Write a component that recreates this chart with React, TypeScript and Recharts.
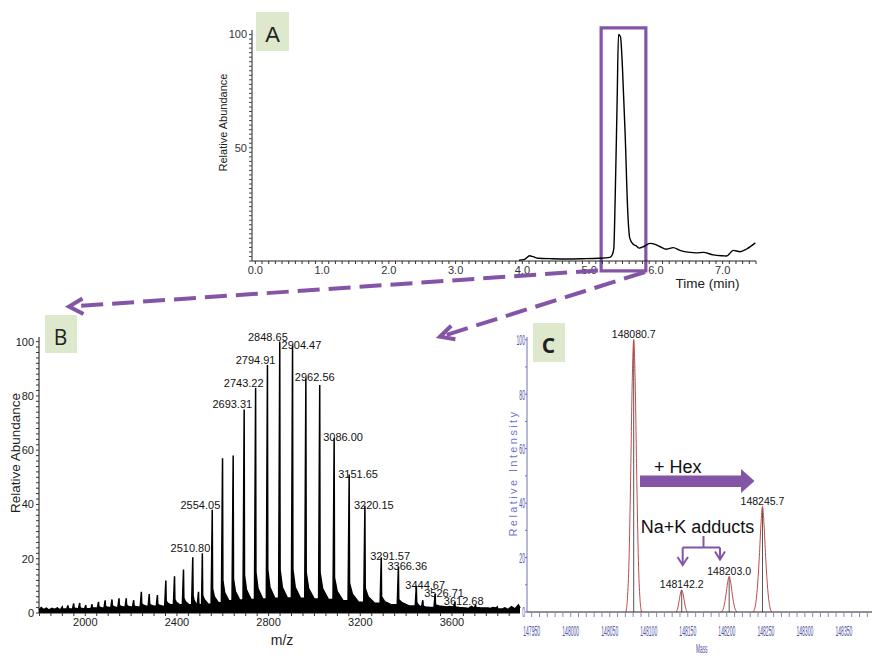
import React from 'react';
import { LineChart, Line, XAxis, YAxis, ReferenceArea, ComposedChart, Area, LabelList, ReferenceLine } from 'recharts';

const W = 872;
const H = 656;
const PURPLE = '#8455a6';
const BOX = '#dde8cd';
const FONT = '"Liberation Sans", Arial, sans-serif';
const BLUE = '#4f4fa3';

// ---------- Panel A : chromatogram ----------
const chromTime = [3.95, 4.03, 4.11, 4.16, 4.24, 4.45, 4.67, 4.9, 5.15, 5.31, 5.35, 5.37, 5.39, 5.42, 5.44, 5.47, 5.5, 5.54, 5.58, 5.61, 5.66, 5.71, 5.75, 5.82, 5.91, 6.0, 6.06, 6.16, 6.26, 6.36, 6.51, 6.6, 6.71, 6.86, 7.0, 7.06, 7.16, 7.26, 7.36, 7.49];
const chromAbund = [0.3, 0.7, 2.3, 1.9, 1.2, 1.0, 0.9, 1.0, 1.2, 1.6, 3, 5.6, 27, 71, 100, 99, 85, 56, 21, 10, 7.4, 6.6, 5.7, 6.4, 7.8, 7.2, 6.4, 5.2, 5.9, 4.7, 3.8, 3.6, 3.8, 2.7, 2.3, 2.2, 4.7, 4.1, 5.3, 8];
const timeMajorTicks = [0, 1, 2, 3, 4, 5, 6, 7];
const abundMajorTicksA = [50, 100];
const selectionWindow = { t1: 5.18, t2: 5.85, low: -4.4, high: 102.9 };

// ---------- Panel B : charge-state envelope ----------
const bPeakMz = [1899.48, 1924.13, 1949.44, 1975.42, 2002.1, 2029.51, 2057.69, 2086.65, 2116.45, 2147.11, 2178.67, 2211.16, 2244.66, 2279.17, 2314.77, 2351.5, 2389.41, 2428.56, 2469.02, 2494.0, 2510.8, 2554.05, 2598.92, 2645.31, 2693.31, 2743.22, 2794.91, 2848.65, 2904.47, 2962.56, 3023.07, 3086.0, 3151.65, 3220.15, 3291.57, 3366.36, 3444.67, 3473.0, 3526.71, 3612.68, 3703.02, 3797.95];
const bPeakHeight = [2.2, 2.8, 3.5, 3.7, 2.9, 3.2, 4.1, 4.7, 5.0, 5.4, 5.4, 4.7, 7.8, 7.0, 6.6, 12, 13.5, 16, 20.5, 7.8, 22, 38, 57, 58, 75, 83, 91.4, 100, 98.5, 86.5, 84, 64.5, 51, 39.5, 20.5, 17, 10, 4.7, 7, 4, 3, 2.2];
const bPeakTail = [1.6, 1.8, 2, 2, 1.8, 2, 2.4, 2.6, 2.8, 3, 3, 2.8, 3.5, 3.4, 3.3, 4.5, 5, 5.5, 6.5, 3.5, 6.5, 9, 12, 12.5, 14, 15, 16, 16, 16, 15, 15, 13, 11, 9, 6, 5, 4, 2.5, 3, 2.2, 2, 1.6];
const bPeakSkirt = [1.5, 1.6, 1.8, 1.8, 1.7, 1.9, 2.1, 2.2, 2.4, 2.5, 2.5, 2.4, 3, 2.9, 2.9, 3.6, 3.9, 4.2, 4.8, 3.2, 5, 6, 7.5, 8, 8.5, 9, 9.5, 9.5, 9.5, 9, 9, 8, 7, 6, 4.2, 3.8, 3.2, 2.2, 2.6, 2, 1.9, 1.5];
const bPeakFloor = [1.5, 1.5, 1.6, 1.6, 1.6, 1.8, 1.8, 2, 2, 2.2, 2.2, 2.2, 2.5, 2.5, 2.5, 3, 3, 3, 3.2, 3, 3.2, 3.8, 4.5, 4.8, 5, 5.2, 5.4, 5.5, 5.4, 5.2, 5, 4.5, 4, 3.6, 3, 2.6, 2.4, 2, 2.2, 1.8, 1.8, 1.5];
const bNoise: [number, number][] = [[1798, 1.3], [1808, 2], [1818, 1.2], [1830, 1.8], [1842, 1.1], [1855, 1.7], [1866, 1.3], [1878, 1.9], [1888, 1.2], [1912, 1.5], [1937, 1.6], [1962, 1.7], [1988, 1.4], [2016, 1.8], [2043, 1.6], [2072, 2], [2101, 2.2], [2132, 2], [2163, 2.4], [2195, 2.3], [2228, 2.6], [2262, 2.5], [2297, 2.8], [2333, 2.7], [2370, 3], [2409, 3], [2449, 3.2], [3460, 2], [3490, 2.6], [3500, 1.8], [3560, 2.2], [3575, 1.6], [3590, 2.4], [3640, 1.6], [3655, 2.2], [3670, 1.5], [3685, 2.4], [3720, 2], [3735, 1.5], [3750, 2.6], [3765, 1.6], [3778, 2], [3815, 1.4], [3830, 1.9], [3845, 1.3], [3860, 2.3], [3875, 1.5], [3890, 3], [3897, 1.8]];
const bLabelledMz = [2510.8, 2554.05, 2693.31, 2743.22, 2794.91, 2848.65, 2904.47, 2962.56, 3086.0, 3151.65, 3220.15, 3291.57, 3366.36, 3444.67, 3526.71, 3612.68];
const mzMajorTicks = [2000, 2400, 2800, 3200, 3600];
const abundMajorTicksB = [0, 20, 40, 60, 80, 100];

// ---------- Panel C : deconvoluted mass ----------
const cProfile: ([number, number] | null)[] = [
  [148070.7, 0], [148072.7, 5], [148074.7, 19], [148076.7, 48], [148078.7, 83], [148080.7, 100], [148082.7, 83], [148084.7, 48], [148086.7, 19], [148088.7, 5], [148090.7, 0],
  null,
  [148135.2, 0], [148137.2, 1.5], [148139.2, 4.6], [148140.7, 7], [148142.2, 8.1], [148143.7, 7], [148145.2, 4.6], [148147.2, 1.5], [148149.2, 0],
  null,
  [148193.0, 0], [148196.0, 1.7], [148199.0, 6.5], [148201.0, 10.8], [148203.0, 13], [148205.0, 10.8], [148207.0, 6.5], [148210.0, 1.7], [148213.0, 0],
  null,
  [148233.7, 0], [148236.7, 2.5], [148239.7, 11], [148241.7, 20.5], [148243.7, 32], [148245.7, 38.7], [148247.7, 32], [148249.7, 20.5], [148251.7, 11], [148254.7, 2.5], [148257.7, 0],
];
const cPeakMass = [148080.7, 148142.2, 148203.0, 148245.7];
const cPeakIntensity = [100, 8.1, 13, 38.7];
const massMajorTicks = [147950, 148000, 148050, 148100, 148150, 148200, 148250, 148300, 148350];
const intensityMajorTicks = [0, 20, 40, 60, 80, 100];

// ---------- helpers ----------
const range = (a: number, b: number, s: number) => {
  const out: number[] = [];
  for (let i = 0; a + i * s <= b + 1e-9; i++) out.push(Math.round((a + i * s) * 1000) / 1000);
  return out;
};
const isIn = (arr: number[], v: number) => arr.some((m) => Math.abs(m - v) < 1e-6);

const chromData = chromTime.map((t, i) => ({ t, v: chromAbund[i] }));

const buildProfileB = () => {
  const pts: { mz: number; v: number }[] = [];
  const windows: [number, number][] = [];
  bPeakMz.forEach((mz, i) => {
    const prevGap = i > 0 ? mz - bPeakMz[i - 1] : 30;
    const nextGap = i < bPeakMz.length - 1 ? bPeakMz[i + 1] - mz : 40;
    const pre = Math.min(5, prevGap * 0.2);
    const end = mz + nextGap * 0.6;
    pts.push({ mz: mz - pre, v: i > 0 ? bPeakFloor[i - 1] : 1.5 });
    pts.push({ mz, v: bPeakHeight[i] });
    pts.push({ mz: mz + 1.5, v: bPeakTail[i] });
    pts.push({ mz: mz + nextGap * 0.2, v: bPeakSkirt[i] });
    pts.push({ mz: end, v: bPeakFloor[i] });
    windows.push([mz - pre - 1, end + 1]);
  });
  bNoise.forEach(([mz, v]) => {
    if (!windows.some(([a, b]) => mz > a && mz < b)) pts.push({ mz, v });
  });
  return pts.sort((a, b) => a.mz - b.mz);
};
const profileB = buildProfileB();
const labelDataB = bLabelledMz.map((mz) => {
  const i = bPeakMz.findIndex((m) => Math.abs(m - mz) < 1e-6);
  return { mz, h: bPeakHeight[i], label: mz.toFixed(2) };
});

// null rows (gaps between peak profiles) sit midway between neighbouring peaks
const profileCData = cProfile.map((p, i) => {
  if (p) return { m: p[0], v: p[1] as number | null };
  const prev = cProfile[i - 1] as [number, number];
  const next = cProfile[i + 1] as [number, number];
  return { m: (prev[0] + next[0]) / 2, v: null };
});
const labelDataC = cPeakMass.map((m, i) => ({ m, v: cPeakIntensity[i], label: m.toFixed(1) }));

const axisTitle = (o: { text: string; dx: number; dy: number; size: number; color: string; rotate?: boolean; condensed?: number; spacing?: number }) => (props: any) => {
  const vb = props && props.viewBox ? props.viewBox : { x: 0, y: 0 };
  const x = vb.x + o.dx;
  const y = vb.y + o.dy;
  let transform: string | undefined;
  if (o.rotate) transform = `rotate(-90 ${x} ${y})`;
  if (o.condensed) transform = `translate(${x} ${y}) scale(${o.condensed} 1) translate(${-x} ${-y})`;
  return (
    <text x={x} y={y} textAnchor="middle" dominantBaseline="central" fontSize={o.size} fill={o.color} letterSpacing={o.spacing} transform={transform} fontFamily={FONT}>
      {o.text}
    </text>
  );
};

const pos = (props: any) => {
  const vb = props.viewBox || {};
  return { x: vb.x ?? props.x, y: vb.y ?? props.y };
};

const BPeakLabel = (props: any) => {
  const { x, y } = pos(props);
  if (props.value == null || x == null) return null;
  const left = parseFloat(props.value) < 2870;
  return (
    <text x={left ? x + 8 : x - 11} y={left ? y - 1 : y + 3} textAnchor={left ? 'end' : 'start'} fontSize={11} fill="#111" fontFamily={FONT}>
      {props.value}
    </text>
  );
};

const CPeakLabel = (props: any) => {
  const { x, y } = pos(props);
  if (props.value == null || x == null) return null;
  return (
    <text x={x} y={y - 2} textAnchor="middle" fontSize={10.5} fill="#111" fontFamily={FONT}>
      {props.value}
    </text>
  );
};

const CondensedXTick = (p: any) => {
  const v = p.payload ? p.payload.value : null;
  if (v == null || !isIn(massMajorTicks, v)) return <g />;
  return (
    <g transform={`translate(${p.x},${p.y + 12})`}>
      <text transform="scale(0.35,1)" textAnchor="middle" dominantBaseline="central" fontSize={14.5} fill={BLUE} fontFamily={FONT}>
        {v}
      </text>
    </g>
  );
};

const CondensedYTick = (p: any) => {
  const v = p.payload ? p.payload.value : null;
  if (v == null || !isIn(intensityMajorTicks, v)) return <g />;
  return (
    <g transform={`translate(${p.x + 1},${p.y})`}>
      <text transform="scale(0.35,1)" textAnchor="end" dominantBaseline="central" fontSize={14.5} fill={BLUE} fontFamily={FONT}>
        {v}
      </text>
    </g>
  );
};

const layer: React.CSSProperties = { position: 'absolute', left: 0, top: 0 };

export default function App() {
  return (
    <div style={{ position: 'absolute', left: 0, top: 0, width: W, height: H, background: '#fff', fontFamily: FONT, overflow: 'hidden' }}>
      {/* Panel A */}
      <div style={layer}>
        <LineChart width={W} height={H} data={chromData} margin={{ top: 30, right: 116, bottom: 365, left: 212 }}>
          <XAxis
            dataKey="t"
            type="number"
            domain={[-0.05, 7.5]}
            ticks={range(0, 7.5, 0.1)}
            interval={0}
            tickFormatter={(v: number) => (isIn(timeMajorTicks, v) ? v.toFixed(1) : '')}
            tickSize={3}
            height={30}
            axisLine={{ stroke: '#222' }}
            tickLine={{ stroke: '#333' }}
            tick={{ fontSize: 11, fill: '#333' }}
            label={axisTitle({ text: 'Time (min)', dx: 455.5, dy: 22, size: 13.5, color: '#222' })}
          />
          <YAxis
            type="number"
            domain={[0, 102]}
            ticks={range(0, 100, 2)}
            interval={0}
            tickFormatter={(v: number) => (isIn(abundMajorTicksA, v) ? String(v) : '')}
            tickSize={3}
            width={40}
            axisLine={{ stroke: '#222' }}
            tickLine={{ stroke: '#444' }}
            tick={{ fontSize: 11, fill: '#333' }}
            label={axisTitle({ text: 'Relative Abundance', dx: 10.5, dy: 92.5, size: 11, color: '#222', rotate: true })}
          />
          <ReferenceArea x1={selectionWindow.t1} x2={selectionWindow.t2} y1={selectionWindow.low} y2={selectionWindow.high} ifOverflow="visible" fill="none" fillOpacity={0} stroke={PURPLE} strokeWidth={3.2} />
          <Line dataKey="v" type="monotone" stroke="#000" strokeWidth={1.4} dot={false} isAnimationActive={false} />
        </LineChart>
      </div>

      {/* Panel B */}
      <div style={layer}>
        <ComposedChart width={W} height={H} margin={{ top: 337, right: 352, bottom: 8, left: 3 }}>
          <XAxis
            dataKey="mz"
            type="number"
            domain={[1798, 3897]}
            ticks={range(1800, 3850, 50)}
            interval={0}
            tickFormatter={(v: number) => (isIn(mzMajorTicks, v) ? String(v) : '')}
            tickSize={3}
            height={35}
            axisLine={{ stroke: '#111' }}
            tickLine={{ stroke: '#333' }}
            tick={{ fontSize: 11, fill: '#222' }}
            label={axisTitle({ text: 'm/z', dx: 243, dy: 27, size: 14, color: '#222' })}
          />
          <YAxis
            type="number"
            domain={[0, 101.7]}
            ticks={range(0, 100, 2)}
            interval={0}
            tickFormatter={(v: number) => (isIn(abundMajorTicksB, v) ? String(v) : '')}
            tickSize={3}
            width={36}
            axisLine={{ stroke: '#111' }}
            tickLine={{ stroke: '#333' }}
            tick={{ fontSize: 11, fill: '#222' }}
            label={axisTitle({ text: 'Relative Abundance', dx: 12.2, dy: 116, size: 13.5, color: '#222', rotate: true })}
          />
          <Area data={profileB} dataKey="v" type="linear" stroke="#000" strokeWidth={1.5} fill="#000" fillOpacity={1} isAnimationActive={false} dot={false} activeDot={false} />
          <Line data={labelDataB} dataKey="h" stroke="none" strokeWidth={0} dot={false} activeDot={false} isAnimationActive={false}>
            <LabelList dataKey="label" content={BPeakLabel} />
          </Line>
        </ComposedChart>
      </div>

      {/* Panel C */}
      <div style={layer}>
        <ComposedChart width={W} height={H} margin={{ top: 337, right: 0, bottom: 4, left: 501 }}>
          <XAxis
            dataKey="m"
            type="number"
            domain={[147944, 148386]}
            ticks={range(147950, 148380, 10)}
            interval={0}
            tickSize={5}
            height={40}
            axisLine={{ stroke: '#222' }}
            tickLine={{ stroke: '#8a8ab8' }}
            tick={CondensedXTick}
            label={axisTitle({ text: 'Mass', dx: 174.7, dy: 37, size: 12, color: BLUE, condensed: 0.4 })}
          />
          <YAxis
            type="number"
            domain={[0, 101]}
            ticks={range(0, 100, 10)}
            interval={0}
            tickSize={2}
            tickMargin={1}
            width={26}
            axisLine={{ stroke: '#7070b0' }}
            tickLine={{ stroke: '#7070b0' }}
            tick={CondensedYTick}
            label={axisTitle({ text: 'Relative Intensity', dx: 12, dy: 136, size: 11, color: '#7474cc', rotate: true, spacing: 2.4 })}
          />
          {cPeakMass.map((m, i) => (
            <ReferenceLine key={m} segment={[{ x: m, y: 0 }, { x: m, y: cPeakIntensity[i] }]} stroke="#555" strokeWidth={1} ifOverflow="visible" />
          ))}
          <Line data={profileCData} dataKey="v" type="monotone" stroke="#c24a4a" strokeWidth={1} dot={false} activeDot={false} connectNulls={false} isAnimationActive={false} />
          <Line data={labelDataC} dataKey="v" stroke="none" strokeWidth={0} dot={false} activeDot={false} isAnimationActive={false}>
            <LabelList dataKey="label" content={CPeakLabel} />
          </Line>
        </ComposedChart>
      </div>

      {/* Annotations */}
      <svg width={W} height={H} style={{ ...layer, pointerEvents: 'none' }}>
        <rect x={256} y={12} width={33} height={39} fill={BOX} />
        <text x={272.5} y={41.7} textAnchor="middle" fontSize={22} fill="#222" fontFamily={FONT}>A</text>
        <rect x={45} y={315} width={32} height={38} fill={BOX} />
        <text x={60.5} y={345} textAnchor="middle" fontSize={21} fill="#222" fontFamily='"Open Sans", sans-serif'>B</text>
        <rect x={533} y={323} width={32} height={39} fill={BOX} />
        <text x={548.5} y={352.7} textAnchor="middle" fontSize={21} fontWeight="bold" fill="#222" fontFamily='"Open Sans", sans-serif'>C</text>

        <line x1={598} y1={270.5} x2={71} y2={306.5} stroke={PURPLE} strokeWidth={4} strokeDasharray="22 9" />
        <polyline points="82.5,298.5 69,306.6 83.5,314" fill="none" stroke={PURPLE} strokeWidth={4} />
        <line x1={645} y1={272} x2={443} y2={336} stroke={PURPLE} strokeWidth={4} strokeDasharray="22 9" />
        <polyline points="451.2,325.8 440,336.7 455.4,339.2" fill="none" stroke={PURPLE} strokeWidth={4} />

        <polygon points="640,475.5 741,475.5 741,469 754.5,481 741,493 741,487 640,487" fill={PURPLE} />
        <text x={654} y={472.5} fontSize={18} fill="#111" fontFamily={FONT}>+ Hex</text>
        <text x={697.6} y={532.5} textAnchor="middle" fontSize={18} fill="#111" fontFamily={FONT}>Na+K adducts</text>
        <g stroke={PURPLE} strokeWidth={2} fill="none">
          <line x1={703.5} y1={536} x2={703.5} y2={547.5} />
          <line x1={682.7} y1={547.5} x2={720} y2={547.5} />
          <line x1={682.7} y1={547.5} x2={682.7} y2={565} />
          <polyline points="677.5,557 682.7,565 688,557" />
          <line x1={720} y1={547.5} x2={720} y2={559} />
          <polyline points="715,551.5 720,559.5 725,551.5" />
        </g>
      </svg>
    </div>
  );
}
